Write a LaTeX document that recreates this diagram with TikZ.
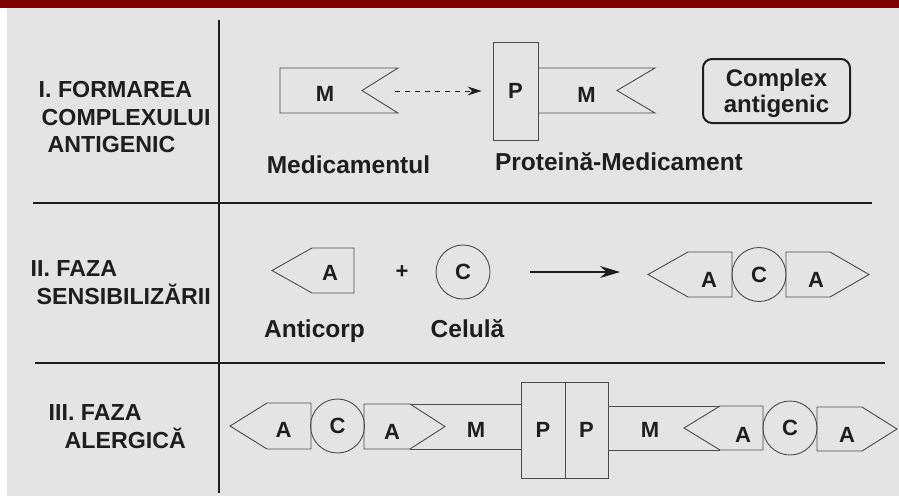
\documentclass[tikz,border=0pt]{standalone}
\usepackage{fontspec}
\setmainfont{Liberation Sans}
\usetikzlibrary{arrows.meta}
\definecolor{barred}{RGB}{128,0,0}
\definecolor{papergray}{RGB}{228,228,228}
\definecolor{inkgray}{RGB}{30,30,30}
\definecolor{linegray}{RGB}{75,75,75}
\tikzset{
  phase/.style={anchor=west,align=left,inner sep=0pt,text=inkgray,
    font=\fontsize{23.2}{27.5}\selectfont\bfseries},
  caption/.style={anchor=base,inner sep=0pt,text=inkgray,
    font=\fontsize{24.5}{28}\selectfont\bfseries},
  letter/.style={inner sep=0pt,text=inkgray,
    font=\fontsize{22}{26}\selectfont\bfseries},
  shapeline/.style={draw=linegray,line width=0.9pt,line join=miter},
  protbox/.style={shapeline,rectangle,inner sep=0pt,text=inkgray,
    font=\fontsize{22}{26}\selectfont\bfseries},
  cellcirc/.style={shapeline,circle,minimum size=54pt,inner sep=0pt,
    text=inkgray,font=\fontsize{22}{26}\selectfont\bfseries},
  complexbox/.style={draw=inkgray,line width=2pt,rounded corners=9pt,
    minimum width=147pt,minimum height=64pt,align=center,inner sep=0pt,
    text depth=0pt,text=inkgray,font=\fontsize{24}{26}\selectfont\bfseries},
  divider/.style={draw=inkgray,line width=1.4pt},
  dashflow/.style={-{Stealth[length=14pt,width=9pt]},line width=0.9pt,
    dash pattern=on 5pt off 5pt,draw=inkgray},
  flow/.style={-{Stealth[length=20pt,width=12pt]},line width=1.3pt,
    draw=inkgray}
}
\begin{document}
\begin{tikzpicture}[x=1pt,y=-1pt]
  \useasboundingbox (0,0) rectangle (899,496);
  \fill[barred] (0,0) rectangle (899,8);
  \fill[white] (0,8) rectangle (7,496);
  \fill[papergray] (7,8) rectangle (899,496);

  \draw[divider] (219,20) -- (219,493);
  \draw[divider] (33,203) -- (872,203);
  \draw[divider] (35,363) -- (885,363);

  \node[phase] (form) at (38.5,117.25)
    {I. FORMAREA\\\hspace*{3pt}COMPLEXULUI\\\hspace*{9pt}ANTIGENIC};
  \draw[shapeline] (280,68) -- (398,68) -- (362,90.5) -- (398,113)
    -- (280,113) -- cycle;
  \node[letter] (drug) at (325,94) {M};
  \coordinate (drugtip) at (395,91);
  \node[protbox,minimum width=45pt,minimum height=98pt] (prot)
    at (515.5,91) {P};
  \draw[shapeline] (538,68) -- (655,68) -- (617,90.5) -- (655,113)
    -- (538,113);
  \node[letter] (drugp) at (586.5,95) {M};
  \draw[dashflow,shorten >=11pt] (drugtip) -- (prot.west);
  \node[complexbox] (cplx) at (776.5,91) {Complex\\antigenic};
  \node[caption] (drugcap) at (348.5,173) {Medicamentul};
  \node[caption] (protcap) at (619,170) {Proteină-Medicament};

  \node[phase] (sens) at (30.5,282.75)
    {II. FAZA\\\hspace*{6pt}SENSIBILIZĂRII};
  \draw[shapeline] (272,270.5) -- (312,248) -- (354,248) -- (354,293)
    -- (312,293) -- cycle;
  \node[letter] (abody) at (330,273) {A};
  \node[letter] (plus) at (402,272) {+};
  \node[cellcirc] (cell) at (463,272) {C};
  \draw[shapeline] (648,274.5) -- (688,252) -- (732,252) -- (732,297)
    -- (688,297) -- cycle;
  \node[cellcirc] (cellb) at (759,274.5) {C};
  \draw[shapeline] (786,252) -- (830,252) -- (869,274.5) -- (830,297)
    -- (786,297) -- cycle;
  \node[letter] (abl) at (709,280) {A};
  \node[letter] (abr) at (816,280) {A};
  \coordinate (cplxtip) at (648,272);
  \draw[flow,shorten <=40pt,shorten >=28pt] (cell.east) -- (cplxtip);
  \node[caption] (abcap) at (314.5,337) {Anticorp};
  \node[caption] (cellcap) at (467.5,337) {Celulă};

  \node[phase] (allerg) at (48.5,426.75)
    {III. FAZA\\\hspace*{16pt}ALERGICĂ};
  \draw[shapeline] (230,426) -- (267,403) -- (311,403) -- (311,449)
    -- (267,449) -- cycle;
  \node[cellcirc] (cellL) at (337.5,426) {C};
  \draw[shapeline] (364,404) -- (410,404) -- (445,426.5) -- (410,449)
    -- (364,449) -- cycle;
  \draw[shapeline] (410,404) -- (521,404) (410,449) -- (521,449);
  \node[protbox,minimum width=44pt,minimum height=96pt] (protL)
    at (543,430) {P};
  \node[protbox,minimum width=43pt,minimum height=96pt] (protR)
    at (586.5,430) {P};
  \draw[shapeline] (608,406) -- (720,406) (608,450) -- (720,450);
  \draw[shapeline] (684,428) -- (720,406) -- (763,406) -- (763,450)
    -- (720,450) -- cycle;
  \node[cellcirc] (cellR) at (790,428) {C};
  \draw[shapeline] (817,407) -- (862,407) -- (897,429) -- (862,451)
    -- (817,451) -- cycle;
  \node[letter] (abL1) at (283.5,430) {A};
  \node[letter] (abL2) at (392,432) {A};
  \node[letter] (drugL) at (476,430) {M};
  \node[letter] (drugR) at (650,430) {M};
  \node[letter] (abR1) at (743,435) {A};
  \node[letter] (abR2) at (847,435) {A};
\end{tikzpicture}
\end{document}
